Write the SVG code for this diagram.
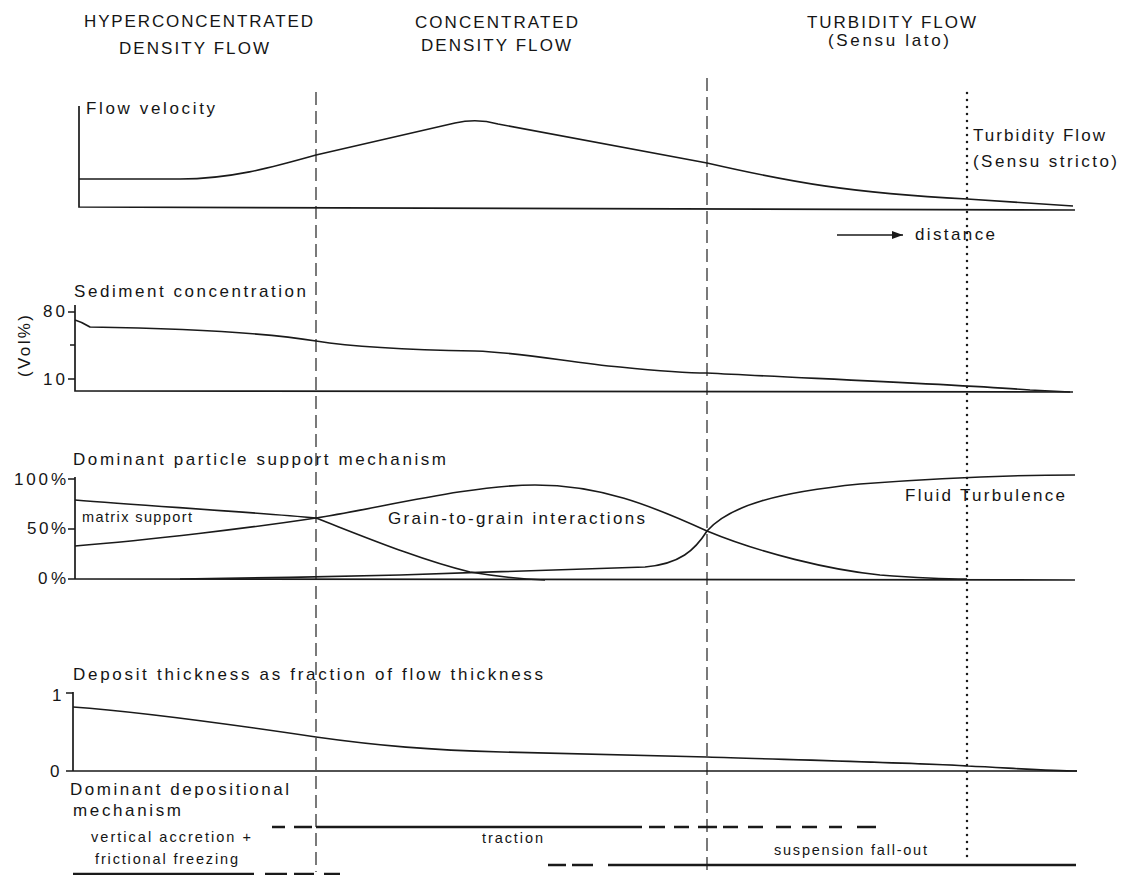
<svg xmlns="http://www.w3.org/2000/svg" width="1129" height="875" viewBox="0 0 1129 875">
<defs>
<style>
text{font-family:"Liberation Sans",Arial,sans-serif;fill:#151515}
.h{font-size:17px}
.l{font-size:17px}
.s{font-size:14.5px}
.ax{fill:none;stroke:#1a1a1a;stroke-width:1.7}
.cv{fill:none;stroke:#1a1a1a;stroke-width:1.6}
.dash{fill:none;stroke:#333;stroke-width:1.3;stroke-dasharray:13 6}
.dot{fill:none;stroke:#1a1a1a;stroke-width:2.5;stroke-dasharray:0 7;stroke-linecap:round}
.dep{fill:none;stroke:#1a1a1a;stroke-width:2.7}
</style>
<marker id="arr" markerWidth="12" markerHeight="10" refX="11" refY="5" orient="auto" markerUnits="userSpaceOnUse">
<path d="M0,1 L11,5 L0,9 Z" fill="#1a1a1a"/>
</marker>
</defs>
<rect width="1129" height="875" fill="#fff"/>

<g id="headers">
<text class="h" x="84" y="27" textLength="229" lengthAdjust="spacing">HYPERCONCENTRATED</text>
<text class="h" x="119" y="54" textLength="150" lengthAdjust="spacing">DENSITY FLOW</text>
<text class="h" x="415" y="28" textLength="163" lengthAdjust="spacing">CONCENTRATED</text>
<text class="h" x="421" y="51" textLength="150" lengthAdjust="spacing">DENSITY FLOW</text>
<text class="h" x="807" y="28" textLength="169" lengthAdjust="spacing">TURBIDITY FLOW</text>
<text class="h" x="828" y="46" textLength="121" lengthAdjust="spacing">(Sensu lato)</text>
</g>

<g id="connectors">
<path class="dash" d="M316,92 V872"/>
<path class="dash" d="M707,78 V875"/>
<path class="dot" d="M967,93 V858"/>
</g>

<g id="flow-velocity">
<path class="ax" d="M79,106 V207 L1075,210"/>
<path class="cv" d="M79,179 L180,179 C230,179 270,168 316,155 L455,123 Q477,118 498,124 L707,163 C790,182 850,193 967,199 L1073,206"/>
<text class="l" x="86" y="114" textLength="129" lengthAdjust="spacing">Flow velocity</text>
<text class="l" x="973" y="141" textLength="132" lengthAdjust="spacing">Turbidity Flow</text>
<text class="l" x="973" y="167" textLength="144" lengthAdjust="spacing">(Sensu stricto)</text>
<path class="cv" d="M837,235 H903" marker-end="url(#arr)"/>
<text class="l" x="915" y="240" textLength="80" lengthAdjust="spacing">distance</text>
</g>

<g id="sediment-concentration">
<path class="ax" d="M75,305 V391 L1073,392 M68,312 H75 M70,345 H75 M68,379 H75"/>
<path class="cv" d="M75,320 Q82,322 90,327 C150,328 250,330 316,341 C360,348 420,350 475,351 C530,353 570,363 620,367 C660,371 690,373 707,373 C800,378 950,384 1030,390 L1070,392"/>
<text class="l" x="74" y="297" textLength="232" lengthAdjust="spacing">Sediment concentration</text>
<text class="l" x="43" y="317" textLength="22" lengthAdjust="spacing">80</text>
<text class="l" x="43" y="385" textLength="22" lengthAdjust="spacing">10</text>
<text class="l" transform="translate(30,346) rotate(-90)" x="-31" y="0" textLength="62" lengthAdjust="spacing">(Vol%)</text>
</g>

<g id="particle-support">
<path class="ax" d="M75,477 V579 L1075,580 M68,479 H75 M68,529 H75 M68,579 H75"/>
<path class="cv" d="M75,500 C150,506 250,512 316,518 C360,535 420,560 470,572 C500,577 520,579 545,580"/>
<path class="cv" d="M75,546 C150,540 250,528 316,518 C380,508 470,485 535,485 C600,485 650,505 707,531 C760,553 830,570 880,575 C920,578 950,579 967,579"/>
<path class="cv" d="M180,579 C260,578 320,577 400,575 C480,572 600,569 645,567 C680,564 695,550 707,531 C730,505 780,492 860,484 C940,478 1000,475 1075,475"/>
<text class="l" x="73" y="465" textLength="373" lengthAdjust="spacing">Dominant particle support mechanism</text>
<text class="l" x="14" y="485" textLength="52" lengthAdjust="spacing">100%</text>
<text class="l" x="27" y="534" textLength="39" lengthAdjust="spacing">50%</text>
<text class="l" x="38" y="584" textLength="28" lengthAdjust="spacing">0%</text>
<text class="s" x="82" y="522" textLength="110" lengthAdjust="spacing">matrix support</text>
<text class="l" x="388" y="524" textLength="257" lengthAdjust="spacing">Grain-to-grain interactions</text>
<text class="l" x="905" y="501" textLength="160" lengthAdjust="spacing">Fluid Turbulence</text>
</g>

<g id="deposit-thickness">
<path class="ax" d="M73,692 V771 H1077 M66,693 H73 M66,771 H73"/>
<path class="cv" d="M73,707 C130,711 215,722 316,737 C380,746 430,750 502,752 C600,754 680,756 707,757 C800,760 944,764 968,766 C1010,768 1050,771 1077,771"/>
<text class="l" x="73" y="680" textLength="470" lengthAdjust="spacing">Deposit thickness as fraction of flow thickness</text>
<text class="l" x="52" y="701">1</text>
<text class="l" x="50" y="777">0</text>
</g>

<g id="depositional-mechanism">
<text class="l" x="70" y="795" textLength="219" lengthAdjust="spacing">Dominant depositional</text>
<text class="l" x="73" y="816" textLength="108" lengthAdjust="spacing">mechanism</text>
<text class="s" x="91" y="842" textLength="160" lengthAdjust="spacing">vertical accretion +</text>
<text class="s" x="95" y="864" textLength="143" lengthAdjust="spacing">frictional freezing</text>
<text class="s" x="482" y="843" textLength="61" lengthAdjust="spacing">traction</text>
<text class="s" x="774" y="855" textLength="153" lengthAdjust="spacing">suspension fall-out</text>
<path class="dep" d="M272,827 H285 M294,827 H312 M316,827 H642 M649,827 H665 M674,827 H689 M698,827 H717 M723,827 H738 M748,827 H763 M776,827 H791 M802,827 H817 M829,827 H842 M857,827 H876"/>
<path class="dep" d="M548,865 H566 M572,865 H593 M608,865 H1076"/>
<path class="dep" d="M73,874 H254 M265,874 H287 M294,874 H314 M324,874 H340"/>
</g>
</svg>
